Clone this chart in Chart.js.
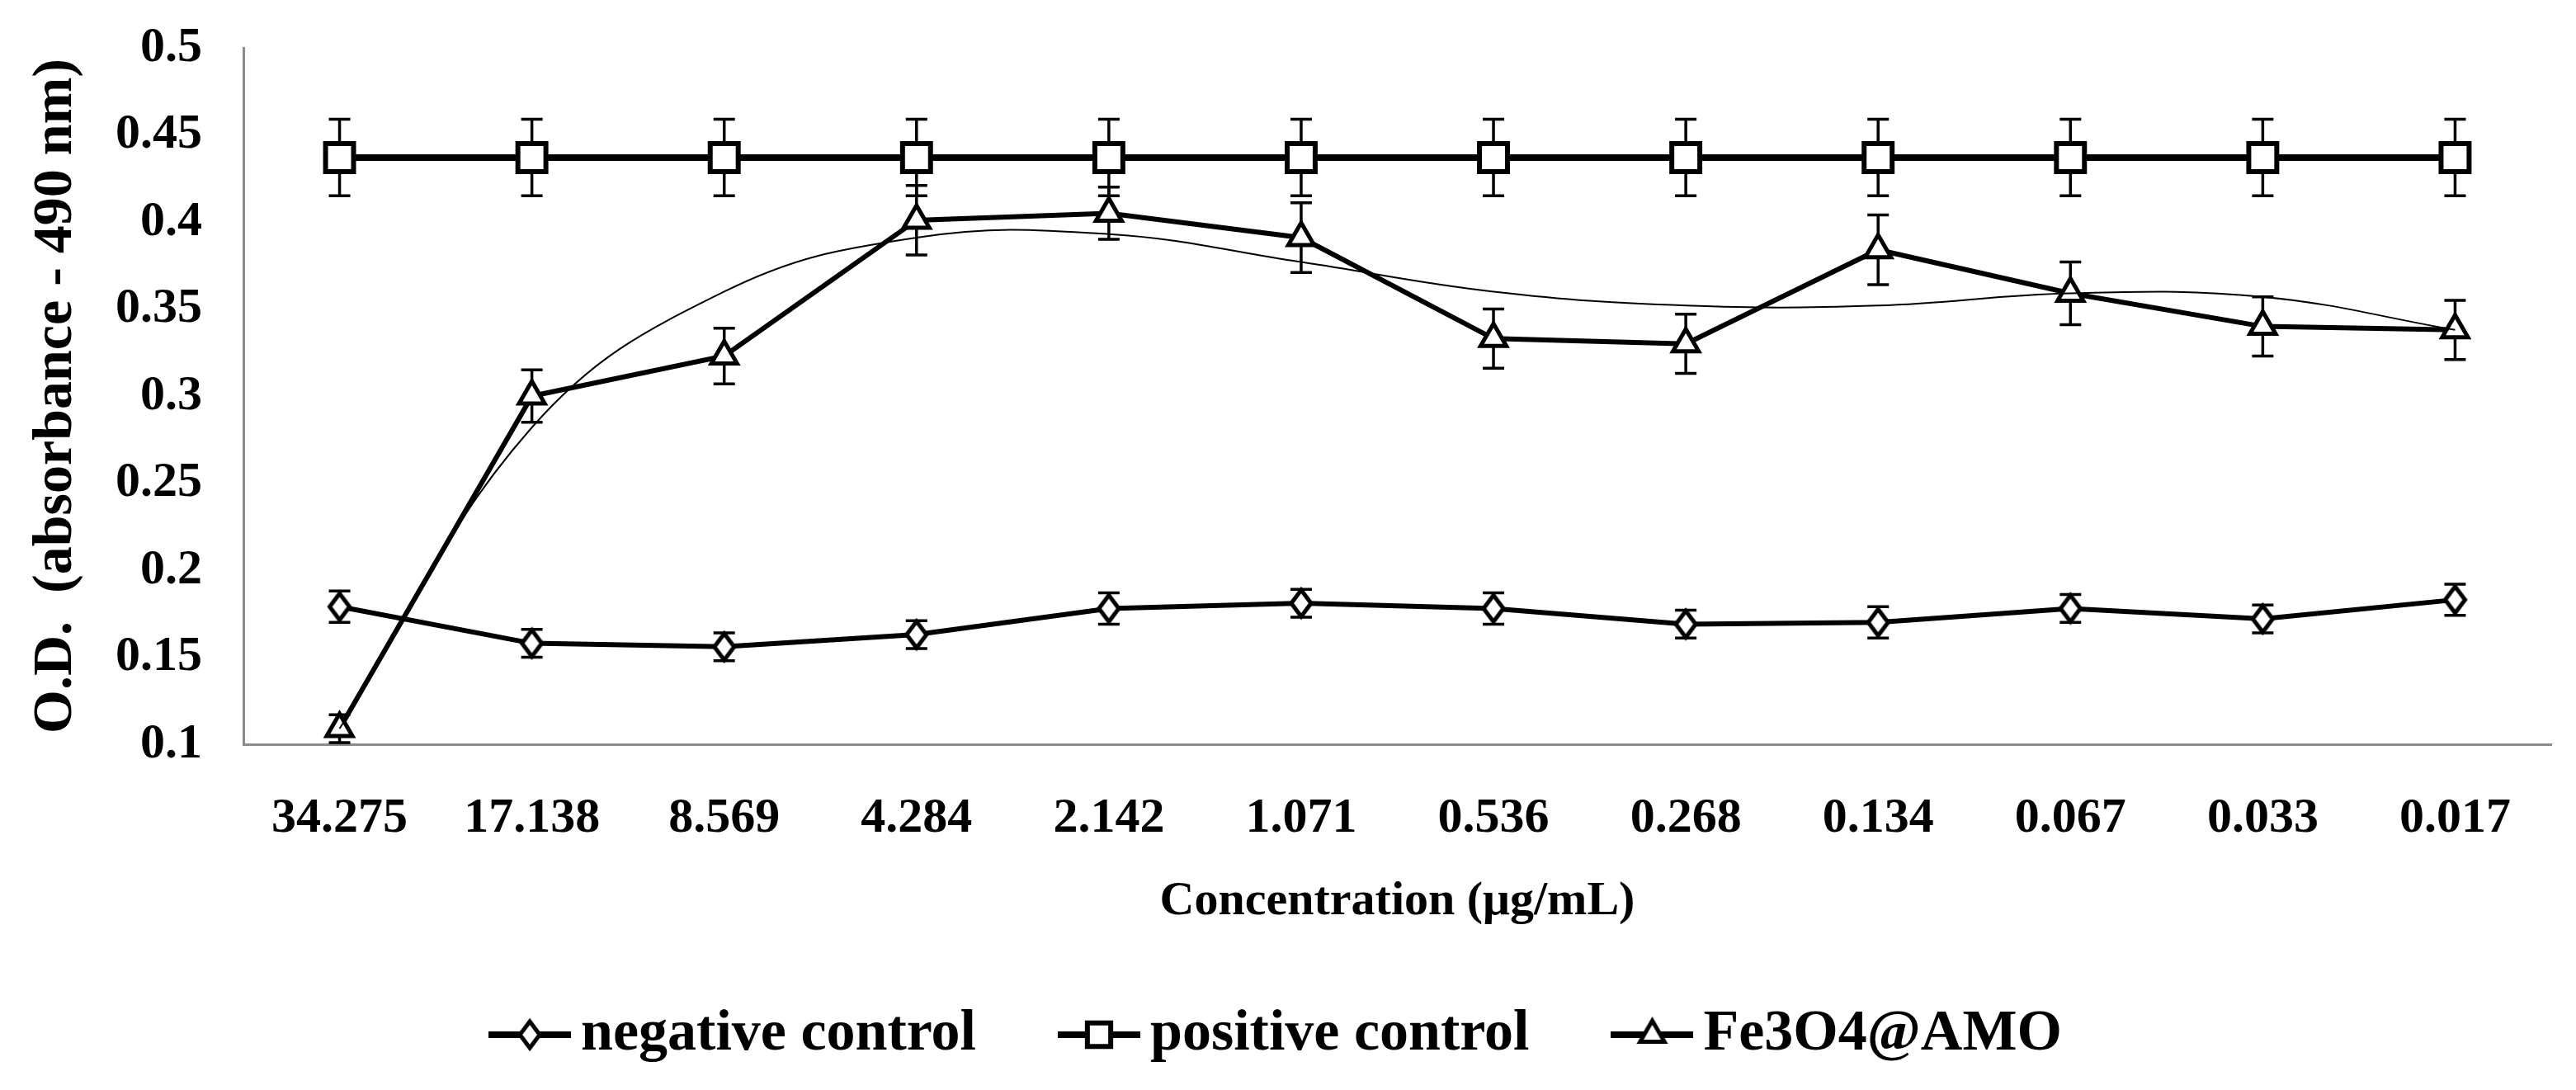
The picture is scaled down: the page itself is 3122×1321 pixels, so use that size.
<!DOCTYPE html>
<html><head><meta charset="utf-8">
<script src="https://cdn.jsdelivr.net/npm/chart.js@4.4.0/dist/chart.umd.min.js"></script>
<style>html,body{margin:0;padding:0;background:#fff;}#wrap{width:3122px;height:1321px;position:relative;background:#fff}</style>
</head><body><div id="wrap"><canvas id="c" width="3122" height="1321"></canvas></div>
<script>
const categories = ['34.275','17.138','8.569','4.284','2.142','1.071','0.536','0.268','0.134','0.067','0.033','0.017'];
const negativeControl = [0.179,0.158,0.156,0.163,0.178,0.181,0.178,0.169,0.170,0.178,0.172,0.183];
const negativeError   = [0.009,0.008,0.008,0.008,0.009,0.008,0.009,0.008,0.009,0.008,0.008,0.009];
const positiveControl = [0.437,0.437,0.437,0.437,0.437,0.437,0.437,0.437,0.437,0.437,0.437,0.437];
const positiveError   = [0.022,0.022,0.022,0.022,0.022,0.022,0.022,0.022,0.022,0.022,0.022,0.022];
const fe3o4           = [0.109,0.300,0.323,0.401,0.405,0.391,0.333,0.330,0.384,0.359,0.340,0.338];
const fe3o4Error      = [0.008,0.015,0.016,0.020,0.015,0.020,0.017,0.017,0.020,0.018,0.017,0.017];
const fe3o4Trend      = [0.109,0.282,0.360,0.391,0.393,0.377,0.360,0.352,0.352,0.359,0.357,0.338];
const yTicks      = [0.1,0.15,0.2,0.25,0.3,0.35,0.4,0.45,0.5];
const yTickLabels = ['0.1','0.15','0.2','0.25','0.3','0.35','0.4','0.45','0.5'];
const seriesNames = ['negative control','positive control','Fe3O4@AMO'];

const FONT = 'Liberation Serif';
Chart.defaults.font.family = FONT;
Chart.defaults.color = '#000';

// marker glyphs (style only)
function diamondGlyph(w, h, bw){
  const c = document.createElement('canvas');
  c.width = w + bw*2 + 2; c.height = h + bw*2 + 2;
  const g = c.getContext('2d');
  const cx = c.width/2, cy = c.height/2;
  g.beginPath();
  g.moveTo(cx, cy - h/2); g.lineTo(cx + w/2, cy); g.lineTo(cx, cy + h/2); g.lineTo(cx - w/2, cy); g.closePath();
  g.fillStyle = '#fff'; g.fill();
  g.lineWidth = bw; g.strokeStyle = '#000'; g.lineJoin = 'miter'; g.stroke();
  return c;
}
const diamondMarker = diamondGlyph(24, 32, 5);

function makeIcon(kind){
  const c = document.createElement('canvas');
  c.width = 100; c.height = 60;
  const g = c.getContext('2d');
  g.strokeStyle = '#000'; g.lineWidth = 8;
  g.beginPath(); g.moveTo(0,30); g.lineTo(100,30); g.stroke();
  if (kind === 'diamond') {
    g.drawImage(diamondMarker, 50 - diamondMarker.width/2, 30 - diamondMarker.height/2);
  } else {
    g.fillStyle = '#fff'; g.lineWidth = kind === 'rect' ? 6 : 5;
    Chart.helpers.drawPoint(g, {pointStyle: kind, radius: kind === 'rect' ? 20 : 17, rotation: 0, borderWidth: g.lineWidth}, 50, 30);
  }
  return c;
}
const icons = [makeIcon('diamond'), makeIcon('rect'), makeIcon('triangle')];

const errorBars = {
  id: 'errorBars',
  beforeDatasetsDraw(chart){
    const ctx = chart.ctx, ys = chart.scales.y;
    chart.data.datasets.forEach((ds,i)=>{
      if(!ds.errors) return;
      const meta = chart.getDatasetMeta(i);
      ctx.save(); ctx.strokeStyle = '#000'; ctx.lineWidth = 3.5;
      meta.data.forEach((pt,j)=>{
        const v = ds.data[j], e = ds.errors[j];
        const px = pt.x, t = ys.getPixelForValue(v+e), b = ys.getPixelForValue(v-e);
        ctx.beginPath();
        ctx.moveTo(px,t); ctx.lineTo(px,b);
        ctx.moveTo(px-13,t); ctx.lineTo(px+13,t);
        ctx.moveTo(px-13,b); ctx.lineTo(px+13,b);
        ctx.stroke();
      });
      ctx.restore();
    });
  }
};

const bgPlugin = {id:'bg', beforeDraw(c){const x=c.ctx; x.save(); x.fillStyle='#fff'; x.fillRect(0,0,c.width,c.height); x.restore();}};

new Chart(document.getElementById('c'), {
  type: 'line',
  data: {
    labels: categories,
    datasets: [
      {label: seriesNames[0], data: negativeControl, errors: negativeError, borderColor:'#000', borderWidth:6,
       pointStyle: diamondMarker, pointRadius:16, pointBackgroundColor:'#fff', pointBorderColor:'#000', tension:0, order:3},
      {label: seriesNames[1], data: positiveControl, errors: positiveError, borderColor:'#000', borderWidth:8,
       pointStyle:'rect', pointRadius:24, pointBorderWidth:6, pointBackgroundColor:'#fff', pointBorderColor:'#000', tension:0, order:2},
      {label: seriesNames[2], data: fe3o4, errors: fe3o4Error, borderColor:'#000', borderWidth:6,
       pointStyle:'triangle', pointRadius:18, pointBorderWidth:5, pointBackgroundColor:'#fff', pointBorderColor:'#000', tension:0, order:1},
      {label: 'trend', data: fe3o4Trend, borderColor:'#000', borderWidth:2, pointRadius:0, tension:0.4, hideInLegend:true, order:0}
    ]
  },
  options: {
    responsive: false, animation: false, devicePixelRatio: 1,
    layout: {padding: {top: 58, right: 8, left: 0, bottom: 22}},
    plugins: {
      tooltip: {enabled:false},
      legend: {
        position: 'bottom',
        labels: {
          usePointStyle: true, pointStyleWidth: 54, padding: 122, color:'#000',
          font: {family: FONT, size: 70, weight: 'bold'},
          generateLabels(chart){
            return chart.data.datasets.map((ds,i)=>({text: ds.label, pointStyle: icons[i], hidden:false, datasetIndex:i,
              lineWidth:0, strokeStyle:'rgba(0,0,0,0)', fillStyle:'rgba(0,0,0,0)', fontColor:'#000'}))
              .filter(l=>!chart.data.datasets[l.datasetIndex].hideInLegend);
          }
        }
      }
    },
    scales: {
      x: {
        offset: true,
        grid: {display:false, drawTicks:false},
        border: {display:true, color:'#8c8c8c', width:3},
        ticks: {font:{family:FONT,size:60,weight:'bold'}, color:'#000', padding:54, maxRotation:0, autoSkip:false},
        title: {display:true, text:'Concentration (μg/mL)', color:'#000', font:{family:FONT,size:58,weight:'bold'}, padding:{top:10,bottom:-31}},
        afterFit(s){ s.height = 195; s.paddingLeft = 0; s.paddingRight = 0; }
      },
      y: {
        min: 0.1, max: 0.5,
        afterBuildTicks(s){ s.ticks = yTicks.map(v=>({value:v})); },
        grid: {display:false, drawTicks:false},
        border: {display:true, color:'#8c8c8c', width:3},
        ticks: {font:{family:FONT,size:60,weight:'bold'}, color:'#000', padding:50, callback:(v,i)=>yTickLabels[i]},
        title: {display:true, text:'O.D.  (absorbance - 490 nm)', color:'#000', font:{family:FONT,size:68,weight:'bold'}, padding:{top:28,bottom:0}},
        afterFit(s){ s.width = 295; s.paddingTop = 0; s.paddingBottom = 0; }
      }
    }
  },
  plugins: [bgPlugin, errorBars]
});
</script></body></html>
